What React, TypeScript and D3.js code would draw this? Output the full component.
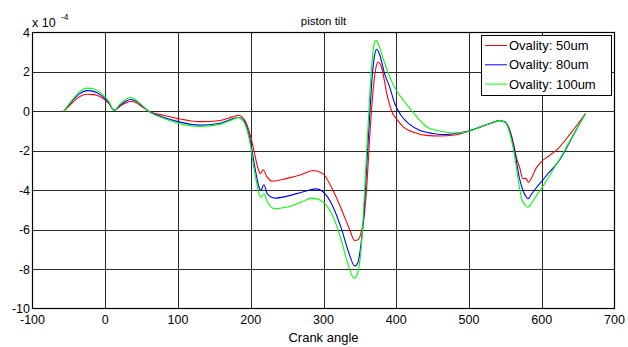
import React from "react";
import * as d3 from "d3";

const xTicks = [-100, 0, 100, 200, 300, 400, 500, 600, 700];
const yTicks = [-10, -8, -6, -4, -2, 0, 2, 4];

const ovality50: [number, number][] = [
  [-57, 0], [-45, 0.45], [-35, 0.75], [-25, 0.87], [-15, 0.85], [-5, 0.7], [5, 0.4], [12, 0.05],
  [20, 0.25], [28, 0.42], [35, 0.5], [42, 0.45], [50, 0.25], [60, 0.0], [80, -0.2], [100, -0.37],
  [130, -0.52], [158, -0.46], [175, -0.28], [183, -0.2], [190, -0.35], [195, -0.7], [200, -1.3],
  [205, -2.1], [210, -2.9], [213, -3.16], [217, -2.96], [222, -3.3], [229, -3.54], [250, -3.4],
  [270, -3.2], [286, -3.0], [299, -3.16], [313, -4.0], [325, -5.0], [335, -5.9], [343, -6.55],
  [348, -6.5], [352, -6.1], [356, -5.3], [360, -3.5], [364, -1.0], [368, 1.0], [372, 2.2],
  [375, 2.5], [380, 2.2], [387, 0.9], [395, -0.1], [400, -0.37], [410, -0.8], [423, -1.05],
  [441, -1.22], [460, -1.25], [480, -1.2], [496, -1.05], [515, -0.8], [530, -0.6], [542, -0.46],
  [550, -0.55], [556, -0.96], [561, -1.6], [565, -2.32], [570, -2.9], [574, -3.42], [578, -3.4],
  [582, -3.59], [587, -3.3], [592, -2.9], [599, -2.57], [610, -2.25], [620, -1.98], [640, -1.1],
  [660, -0.12],
];

const ovality80: [number, number][] = [
  [-57, 0], [-45, 0.55], [-35, 0.9], [-25, 1.05], [-15, 1.0], [-5, 0.8], [5, 0.45], [12, 0.05],
  [20, 0.3], [28, 0.5], [35, 0.6], [42, 0.52], [50, 0.3], [60, 0.0], [80, -0.3], [100, -0.52],
  [130, -0.7], [158, -0.6], [175, -0.38], [183, -0.3], [190, -0.45], [195, -0.85], [200, -1.6],
  [204, -2.5], [208, -3.3], [211, -3.8], [214, -4.0], [218, -3.72], [223, -4.2], [233, -4.4],
  [250, -4.3], [270, -4.1], [290, -3.93], [304, -4.26], [315, -5.0], [325, -6.0], [335, -7.2],
  [343, -7.85], [347, -7.7], [351, -6.9], [355, -5.5], [359, -3.0], [363, -0.5], [367, 1.8],
  [370, 2.8], [373, 3.15], [377, 2.9], [384, 1.9], [391, 1.23], [398, 0.4], [405, -0.12],
  [418, -0.65], [432, -0.96], [450, -1.12], [469, -1.18], [485, -1.1], [500, -1.0], [515, -0.8],
  [530, -0.6], [542, -0.47], [550, -0.55], [556, -1.0], [561, -1.7], [565, -2.5], [569, -3.33],
  [574, -4.0], [578, -4.3], [581, -4.43], [586, -4.2], [592, -3.9], [599, -3.59], [610, -3.1],
  [624, -2.49], [632, -2.0], [645, -1.1], [660, -0.12],
];

const ovality100: [number, number][] = [
  [-57, 0], [-45, 0.6], [-35, 1.0], [-25, 1.18], [-15, 1.12], [-5, 0.9], [5, 0.5], [12, 0.05],
  [20, 0.35], [28, 0.6], [35, 0.7], [42, 0.58], [50, 0.32], [60, 0.0], [80, -0.35], [100, -0.6],
  [130, -0.76], [158, -0.66], [175, -0.42], [183, -0.32], [190, -0.5], [195, -0.95], [200, -1.8],
  [204, -2.8], [208, -3.6], [211, -4.15], [214, -4.35], [218, -4.18], [223, -4.6], [233, -4.94],
  [250, -4.85], [270, -4.6], [284, -4.4], [295, -4.5], [304, -4.77], [315, -5.5], [325, -6.6],
  [334, -7.8], [342, -8.46], [346, -8.3], [350, -7.6], [354, -5.8], [358, -3.0], [362, -0.2],
  [366, 2.2], [369, 3.3], [372, 3.6], [376, 3.35], [380, 2.9], [385, 2.35], [390, 1.85],
  [395, 1.42], [400, 1.07], [410, 0.55], [419, 0.14], [430, -0.35], [442, -0.79], [460, -1.0],
  [478, -1.1], [500, -1.02], [515, -0.8], [530, -0.6], [542, -0.47], [550, -0.58], [556, -1.1],
  [561, -1.9], [565, -2.8], [569, -3.8], [572, -4.4], [577, -4.75], [581, -4.86], [587, -4.6],
  [594, -4.2], [601, -3.84], [615, -3.0], [629, -2.15], [640, -1.4], [652, -0.63], [660, -0.12],
];

const seriesNames = ["Ovality: 50um", "Ovality: 80um", "Ovality: 100um"];
const seriesData = [ovality50, ovality80, ovality100];
const seriesColors = ["#ff0000", "#0000ff", "#00ff00"];

const W = 628;
const H = 347;
const L = 32.5, R = 614.5, T = 32.5, B = 308.5;
const FONT = "'Liberation Sans', Arial, sans-serif";

export default function App() {
  const x = d3.scaleLinear().domain([-100, 700]).range([L, R]);
  const y = d3.scaleLinear().domain([-10, 4]).range([B, T]);
  const line = d3
    .line<[number, number]>()
    .x((d) => x(d[0]))
    .y((d) => y(d[1]))
    .curve(d3.curveMonotoneX);

  return (
    <svg width={W} height={H} style={{ position: "absolute", left: 0, top: 0, background: "#fff" }}>
      <rect x={0} y={0} width={W} height={H} fill="#fff" />
      {xTicks.slice(1, -1).map((t) => (
        <line key={"gx" + t} x1={Math.round(x(t)) + 0.5} x2={Math.round(x(t)) + 0.5} y1={T} y2={B} stroke="#2a2a2a" strokeWidth={1} />
      ))}
      {yTicks.slice(1, -1).map((t) => (
        <line key={"gy" + t} x1={L} x2={R} y1={Math.round(y(t)) + 0.5} y2={Math.round(y(t)) + 0.5} stroke="#2a2a2a" strokeWidth={1} />
      ))}
      {seriesData.map((s, i) => (
        <path key={i} d={line(s) || ""} fill="none" stroke={seriesColors[i]} strokeWidth={1.1} />
      ))}
      <rect x={L} y={T} width={R - L} height={B - T} fill="none" stroke="#000" strokeWidth={1.2} />
      {xTicks.map((t) => (
        <text key={"xl" + t} x={x(t)} y={324} textAnchor="middle" fontFamily={FONT} fontSize={12.5} fill="#000">
          {t}
        </text>
      ))}
      {yTicks.map((t) => (
        <text key={"yl" + t} x={30} y={y(t) + 4.5} textAnchor="end" fontFamily={FONT} fontSize={12.5} fill="#000">
          {t}
        </text>
      ))}
      <text x={32} y={27} fontFamily={FONT} fontSize={12.5} fill="#000">
        x 10
      </text>
      <text x={61} y={20} fontFamily={FONT} fontSize={8.5} fill="#000">
        -4
      </text>
      <text x={(L + R) / 2} y={25} textAnchor="middle" fontFamily={FONT} fontSize={11.5} fill="#000">
        piston tilt
      </text>
      <text x={(L + R) / 2} y={342} textAnchor="middle" fontFamily={FONT} fontSize={13} fill="#000">
        Crank angle
      </text>
      <rect x={481.5} y={35.5} width={130} height={60} fill="#fff" stroke="#000" strokeWidth={1} />
      {seriesNames.map((n, i) => (
        <g key={n}>
          <line x1={485} x2={507} y1={45.5 + i * 19.3} y2={45.5 + i * 19.3} stroke={seriesColors[i]} strokeWidth={1} />
          <text x={509} y={50 + i * 19.3} fontFamily={FONT} fontSize={13} fill="#000">
            {n}
          </text>
        </g>
      ))}
    </svg>
  );
}
